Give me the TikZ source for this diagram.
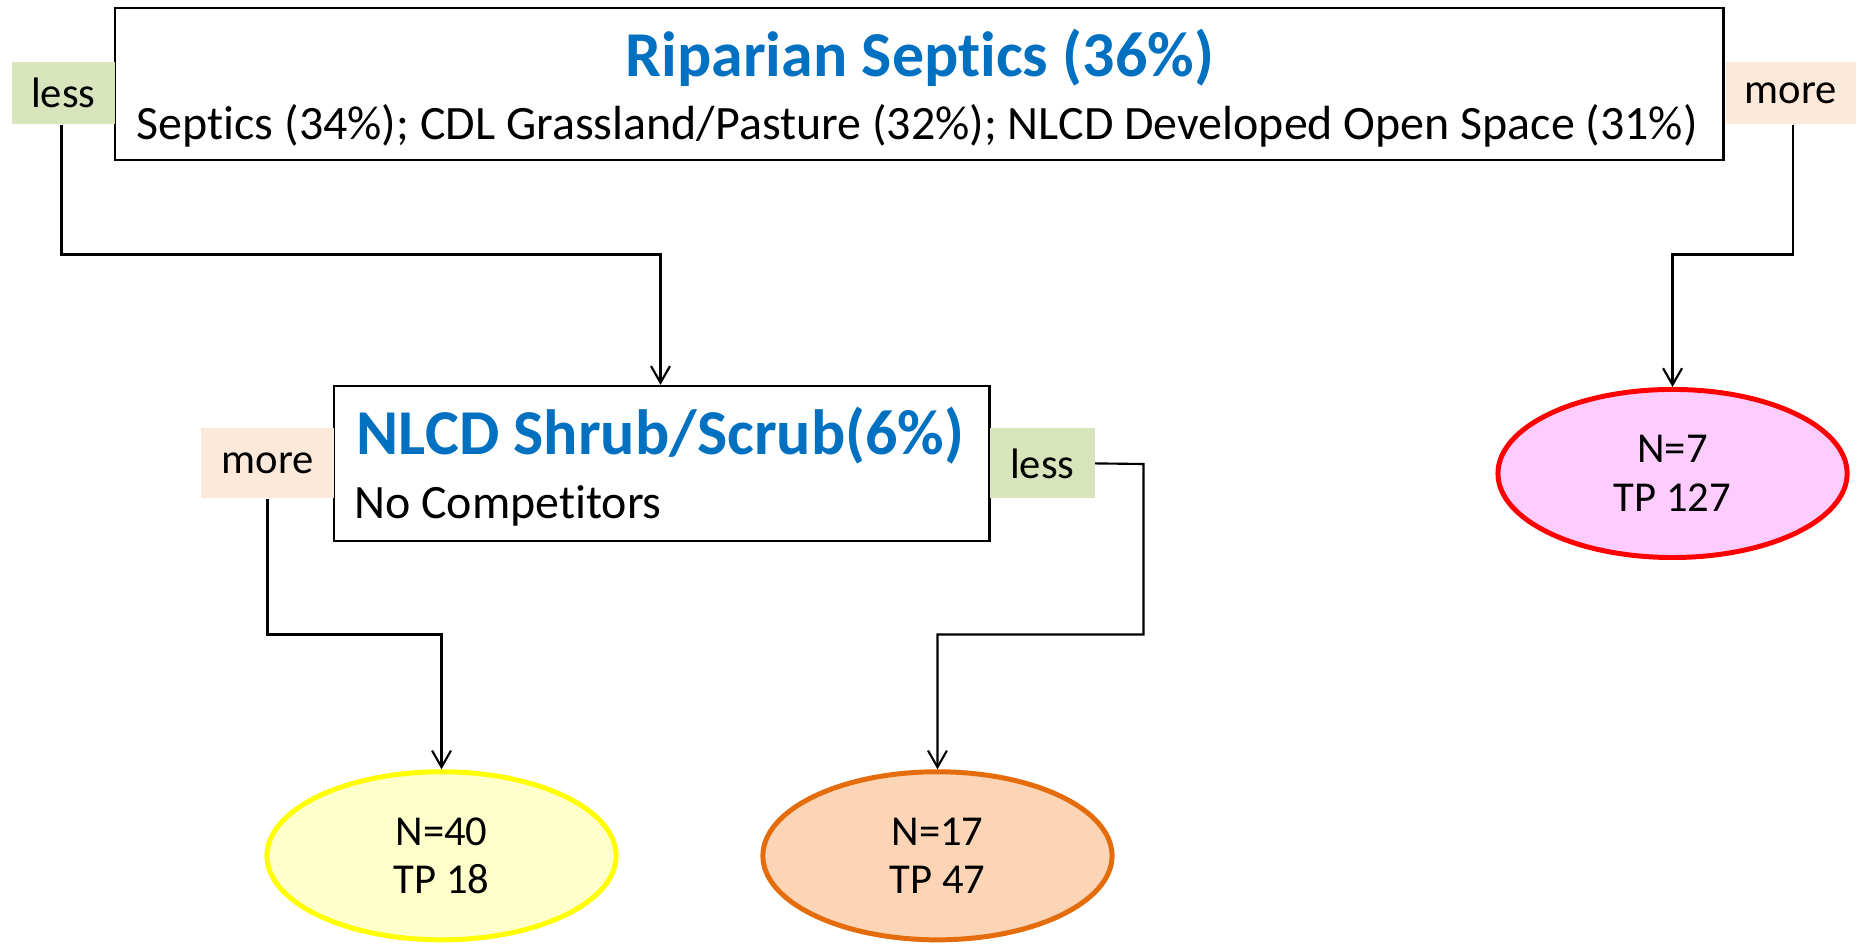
\documentclass[tikz,border=0pt]{standalone}
\usepackage{fontspec}
\setmainfont{Carlito}[Ligatures=NoCommon]
\usetikzlibrary{arrows.meta,shapes.geometric}
\definecolor{tblue}{RGB}{0,112,192}
\definecolor{lessg}{RGB}{216,228,188}
\definecolor{morep}{RGB}{253,233,217}
\definecolor{pinkf}{RGB}{255,204,255}
\definecolor{yelf}{RGB}{255,255,204}
\definecolor{yelb}{RGB}{255,255,0}
\definecolor{oraf}{RGB}{251,213,181}
\definecolor{orab}{RGB}{228,108,10}
\begin{document}
\begin{tikzpicture}[x=1pt,y=-1pt,
  box/.style={draw=black,line width=1.8pt,fill=white,inner sep=0pt},
  lesslab/.style={fill=lessg,inner sep=0pt,font=\fontsize{36}{42}\selectfont},
  morelab/.style={fill=morep,inner sep=0pt,font=\fontsize{36}{42}\selectfont},
  titletxt/.style={text=tblue,font=\fontsize{54}{62}\selectfont\bfseries,inner sep=0pt},
  bodytxt/.style={font=\fontsize{40.5}{48}\selectfont,inner sep=0pt},
  leaf/.style={ellipse,line width=4.2pt,inner sep=0pt,minimum width=295pt,minimum height=142pt,align=center,font=\fontsize{36}{41}\selectfont},
  conn/.style={draw=black,line width=1.8pt,-{Straight Barb[length=14pt,width=16pt,line width=1.8pt]}}]
\useasboundingbox (0,0) rectangle (1568,797);
% top split
\node[box,minimum width=1359pt,minimum height=128pt] (top) at (776.5,71) {};
\node[titletxt] (toptitle) at (777,49) {Riparian Septics (36\%)};
\node[bodytxt] (topsub) at (775,106) {Septics (34\%); CDL Grassland/Pasture (32\%); NLCD Developed Open Space (31\%)};
\node[lesslab,minimum width=87pt,minimum height=53pt] (less1) at (53.5,78.5) {less};
\node[morelab,minimum width=110pt,minimum height=53pt] (more1) at (1513,78.5) {more};
% second split
\node[box,minimum width=554pt,minimum height=131pt] (mid) at (559,391.5) {};
\node[titletxt] (midtitle) at (558,368) {NLCD Shrub/Scrub(6\%)};
\node[bodytxt,anchor=west] (midsub) at (299,427) {No Competitors};
\node[morelab,minimum width=112pt,minimum height=59pt] (more2) at (226,391.5) {more};
\node[lesslab,minimum width=89pt,minimum height=59pt] (less2) at (880.5,391.5) {less};
% leaves
\node[leaf,draw=red,fill=pinkf] (leafA) at (1413,400) {N=7\\TP 127};
\node[leaf,draw=yelb,fill=yelf] (leafB) at (373,723) {N=40\\TP 18};
\node[leaf,draw=orab,fill=oraf] (leafC) at (792,723) {N=17\\TP 47};
% connectors
\coordinate (c1) at (52,215);
\coordinate (c2) at (558,215);
\draw[conn] (less1.south -| c1) |- (c2) -- (mid.north -| c2);
\coordinate (c3) at (1515,215);
\coordinate (c4) at (1413,215);
\draw[conn] (more1.south -| c3) |- (c4) -- (leafA.north);
\coordinate (c6) at (373,536);
\draw[conn] (more2.south) |- (c6) -- (leafB.north);
\coordinate (c7) at (966,392);
\coordinate (c8) at (966,536);
\coordinate (c9) at (792,536);
\draw[conn] (less2.east) -- (c7) -- (c8) -- (c9) -- (leafC.north);
\end{tikzpicture}
\end{document}
